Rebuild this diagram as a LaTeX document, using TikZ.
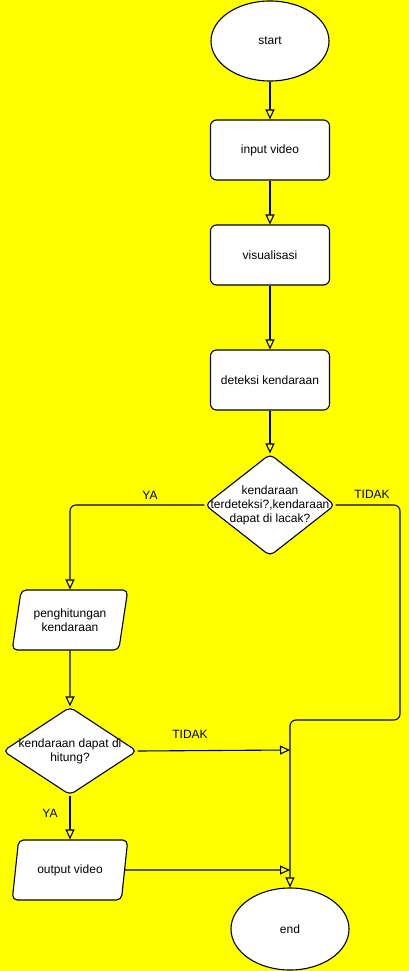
\documentclass[tikz,border=0pt]{standalone}
\usepackage{fontspec}
\setmainfont{Liberation Sans}
\usepackage{xcolor}
\usetikzlibrary{arrows.meta,shapes.geometric}
\definecolor{bgYellow}{HTML}{FFFF00}

\begin{document}
\begin{tikzpicture}[x=1pt, y=-1pt, >={Triangle[open, length=10pt, width=9pt]},
  font=\fontsize{12}{14}\selectfont,
  terminal/.style={ellipse, draw, fill=white, line width=1.1pt, minimum width=118, minimum height=80},
  process/.style={rectangle, rounded corners=6pt, draw, fill=white, line width=1.1pt, minimum width=119, minimum height=60, align=center},
  inout/.style={trapezium, trapezium left angle=76, trapezium right angle=104, trapezium stretches=true,
    rounded corners=5pt, draw, fill=white, line width=1.1pt, minimum width=116, minimum height=60, align=center},
  decision/.style={diamond, draw, fill=white, line width=1.1pt, rounded corners=5pt, inner sep=0pt},
  flow/.style={line width=1.1pt, rounded corners=6pt}]
% background
\fill[bgYellow] (0,0) rectangle (409,971);
\useasboundingbox (0,0) rectangle (409,971);
% main column
\node[terminal] (start) at (270,41) {start};
\node[process] (input) at (270,150) {input video};
\node[process] (visual) at (270,255) {visualisasi};
\node[process] (detect) at (270,380) {deteksi kendaraan};
\node[decision, minimum width=130, minimum height=102,
  label={[align=center]center:kendaraan\\terdeteksi?,kendaraan\\dapat di lacak?}] (track) at (270,505) {};
% left branch
\node[inout] (count) at (70,620) {penghitungan\\kendaraan};
\node[decision, minimum width=134, minimum height=88,
  label={[align=center]center:kendaraan dapat di\\hitung?}] (countable) at (70,751) {};
\node[inout] (output) at (70,870) {output video};
% end
\node[terminal, minimum height=82] (end) at (290,929) {end};
% junctions on the right line
\coordinate (r1) at (400,720);
\coordinate (r2) at (290,720);
\coordinate (j1) at (290,750);
\coordinate (j2) at (290,870);
% labels
\node (yaA) at (150,495) {YA};
\node (tidakA) at (372,494) {TIDAK};
\node (tidakB) at (190,734) {TIDAK};
\node (yaB) at (50,813) {YA};
% connectors
\draw[flow, ->] (start) -- (input);
\draw[flow, ->] (input) -- (visual);
\draw[flow, ->] (visual) -- (detect);
\draw[flow, ->] (detect) -- (track);
\draw[flow, ->] (track.west) -| (count.north);
\draw[flow, ->] (count) -- (countable);
\draw[flow, ->] (countable) -- (output);
\draw[flow, ->] (countable.east) -- (j1);
\draw[flow, ->] (output.east) -- (j2);
\draw[flow, ->] (track.east) -| (r1) -- (r2) -- (end.north);
\end{tikzpicture}
\end{document}
